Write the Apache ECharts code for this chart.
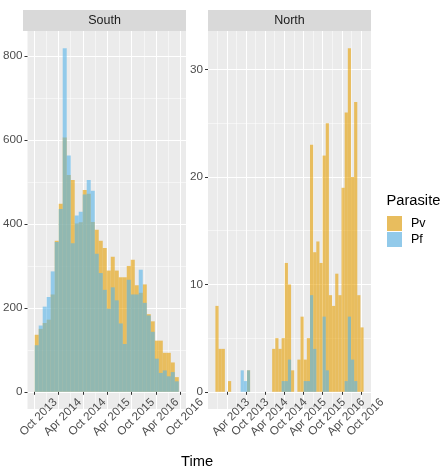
<!DOCTYPE html>
<html><head><meta charset="utf-8">
<script src="https://cdn.jsdelivr.net/npm/echarts@6/dist/echarts.min.js"></script>
<style>html,body{margin:0;padding:0;background:#fff}#c{width:440px;height:470px}</style>
</head><body><div id="c"></div>
<script>
// ---- data ----
const binDays = 30;
const southStart = '2013-10-04';
const northStart = '2012-12-14';
const southPv = [136,150,164,172,232,360,448,606,517,505,401,404,481,472,405,386,360,343,289,322,289,273,273,300,315,254,236,256,185,168,122,122,93,93,70,35];
const southPf = [111,158,203,226,287,357,436,819,563,354,420,429,470,505,479,329,283,243,198,249,218,163,114,267,232,232,291,212,182,143,79,45,51,37,47,25];
const northPv = [8,4,4,0,1,0,0,0,0,0,2,0,0,0,0,0,0,0,4,5,4,5,12,10,2,0,3,7,3,5,23,13,14,12,22,25,9,8,11,9,19,26,32,20,27,9,6];
const northPf = [0,0,0,0,0,0,0,0,2,1,2,0,0,0,0,0,0,0,0,0,0,1,1,3,0,0,0,0,1,1,9,4,0,0,7,2,0,0,0,0,0,1,7,3,1,0,0];
const southXTicks = ['2013-10-01','2014-04-01','2014-10-01','2015-04-01','2015-10-01','2016-04-01','2016-10-01'];
const southXMinor = ['2014-01-01','2014-07-01','2015-01-01','2015-07-01','2016-01-01','2016-07-01'];
const northXTicks = ['2013-04-01','2013-10-01','2014-04-01','2014-10-01','2015-04-01','2015-10-01','2016-04-01','2016-10-01'];
const northXMinor = ['2013-01-01','2013-07-01','2014-01-01','2014-07-01','2015-01-01','2015-07-01','2016-01-01','2016-07-01'];
const southYTicks = [0,200,400,600,800];
const southYMinor = [100,300,500,700];
const northYTicks = [0,10,20,30];
const northYMinor = [5,15,25];
const facets = ['South','North'];
const parasites = ['Pv','Pf'];
const monthNames = ['Jan','Feb','Mar','Apr','May','Jun','Jul','Aug','Sep','Oct','Nov','Dec'];

// ---- helpers ----
const DAY = 86400000;
const ms = s => Date.parse(s + 'T00:00:00Z');
function bins(start, vals) {
  const t0 = ms(start);
  return vals.map((v, i) => [t0 + i * binDays * DAY, t0 + (i + 1) * binDays * DAY, v]);
}
function xRange(start, n) {
  const a = ms(start), b = a + n * binDays * DAY, e = (b - a) * 0.05;
  return [a - e, b + e];
}
function yRange(arrs) {
  const m = Math.max(...arrs.map(a => Math.max(...a)));
  return [-0.05 * m, 1.05 * m];
}
const fmt = v => { const d = new Date(v); return monthNames[d.getUTCMonth()] + ' ' + d.getUTCFullYear(); };

const FONT = "'Liberation Sans', Arial, sans-serif";
const G = [
  {left: 23, top: 31, width: 163, height: 378},
  {left: 208, top: 31, width: 163, height: 378}
];
const sX = xRange(southStart, southPv.length), nX = xRange(northStart, northPv.length);
const sY = yRange([southPv, southPf]), nY = yRange([northPv, northPf]);

function xMain(gi, r, ticks) {
  const vals = ticks.map(ms);
  return {type: 'value', gridIndex: gi, min: r[0], max: r[1], position: 'bottom', scale: true,
    axisLine: {show: false},
    axisTick: {show: true, length: 3, lineStyle: {color: '#333333', width: 1}, customValues: vals},
    axisLabel: {show: true, customValues: vals, formatter: fmt, rotate: 45, align: 'center', verticalAlign: 'top',
      margin: 4, color: '#4D4D4D', fontSize: 11.7, fontFamily: FONT, hideOverlap: false, showMinLabel: true, showMaxLabel: true},
    splitLine: {show: true, lineStyle: {color: '#FFFFFF', width: 1.07}}};
}
function xMinor(gi, r, ticks) {
  const vals = ticks.map(ms);
  return {type: 'value', gridIndex: gi, min: r[0], max: r[1], position: 'bottom', scale: true,
    axisLine: {show: false}, axisTick: {show: false, customValues: vals},
    axisLabel: {show: false, customValues: vals},
    splitLine: {show: true, lineStyle: {color: '#FFFFFF', width: 0.53}}};
}
function yMain(gi, r, ticks) {
  return {type: 'value', gridIndex: gi, min: r[0], max: r[1],
    axisLine: {show: false},
    axisTick: {show: true, length: 3, lineStyle: {color: '#333333', width: 1}, customValues: ticks},
    axisLabel: {show: true, customValues: ticks, margin: 5, color: '#4D4D4D', fontSize: 11.7, fontFamily: FONT},
    splitLine: {show: true, lineStyle: {color: '#FFFFFF', width: 1.07}}};
}
function yMinor(gi, r, ticks) {
  return {type: 'value', gridIndex: gi, min: r[0], max: r[1],
    axisLine: {show: false}, axisTick: {show: false, customValues: ticks},
    axisLabel: {show: false, customValues: ticks},
    splitLine: {show: true, lineStyle: {color: '#FFFFFF', width: 0.53}}};
}
function renderBar(params, api) {
  const p0 = api.coord([api.value(0), api.value(2)]);
  const p1 = api.coord([api.value(1), 0]);
  return {type: 'rect', shape: {x: p0[0], y: p0[1], width: p1[0] - p0[0], height: p1[1] - p0[1]},
    style: {fill: api.visual('color')}};
}
const colors = {Pv: 'rgba(230,159,0,0.6)', Pf: 'rgba(86,180,233,0.6)'};
const keyColors = {Pv: '#E8BD5E', Pf: '#92CAEA'};
function series(name, xi, yi, data) {
  return {type: 'custom', name: name, xAxisIndex: xi, yAxisIndex: yi, renderItem: renderBar,
    itemStyle: {color: colors[name]}, encode: {x: [0, 1], y: 2}, data: data, clip: true, silent: true};
}

const chart = echarts.init(document.getElementById('c'), null, {renderer: 'canvas'});
const graphics = [];
facets.forEach((f, i) => {
  graphics.push({type: 'rect', left: G[i].left, top: 10, shape: {width: G[i].width, height: 21}, style: {fill: '#D9D9D9'}, silent: true});
  graphics.push({type: 'text', x: G[i].left + G[i].width / 2, y: 20.5,
    style: {text: f, fill: '#1A1A1A', font: '12.5px ' + FONT, textAlign: 'center', textVerticalAlign: 'middle'}});
});
graphics.push({type: 'text', x: 197, y: 462, style: {text: 'Time', fill: '#000', font: '14.7px ' + FONT, textAlign: 'center', textVerticalAlign: 'middle'}});
graphics.push({type: 'text', x: 386.5, y: 201, style: {text: 'Parasite', fill: '#000', font: '14.7px ' + FONT, textAlign: 'left', textVerticalAlign: 'middle'}});

chart.setOption({
  animation: false,
  backgroundColor: '#FFFFFF',
  grid: G.map(g => Object.assign({show: true, backgroundColor: '#EBEBEB', borderWidth: 0, containLabel: false}, g)),
  xAxis: [xMain(0, sX, southXTicks), xMinor(0, sX, southXMinor), xMain(1, nX, northXTicks), xMinor(1, nX, northXMinor)],
  yAxis: [yMain(0, sY, southYTicks), yMinor(0, sY, southYMinor), yMain(1, nY, northYTicks), yMinor(1, nY, northYMinor)],
  legend: {orient: 'vertical', left: 387, top: 216, itemWidth: 15, itemHeight: 15, itemGap: 1, icon: 'rect',
    selectedMode: false, padding: 0,
    textStyle: {fontSize: 12.5, color: '#000', fontFamily: FONT, padding: [0, 0, 0, 4]},
    data: parasites.map(p => ({name: p, itemStyle: {color: keyColors[p]}}))},
  graphic: graphics,
  series: [
    series('Pv', 0, 0, bins(southStart, southPv)),
    series('Pf', 0, 0, bins(southStart, southPf)),
    series('Pv', 2, 2, bins(northStart, northPv)),
    series('Pf', 2, 2, bins(northStart, northPf))
  ]
});
</script></body></html>
